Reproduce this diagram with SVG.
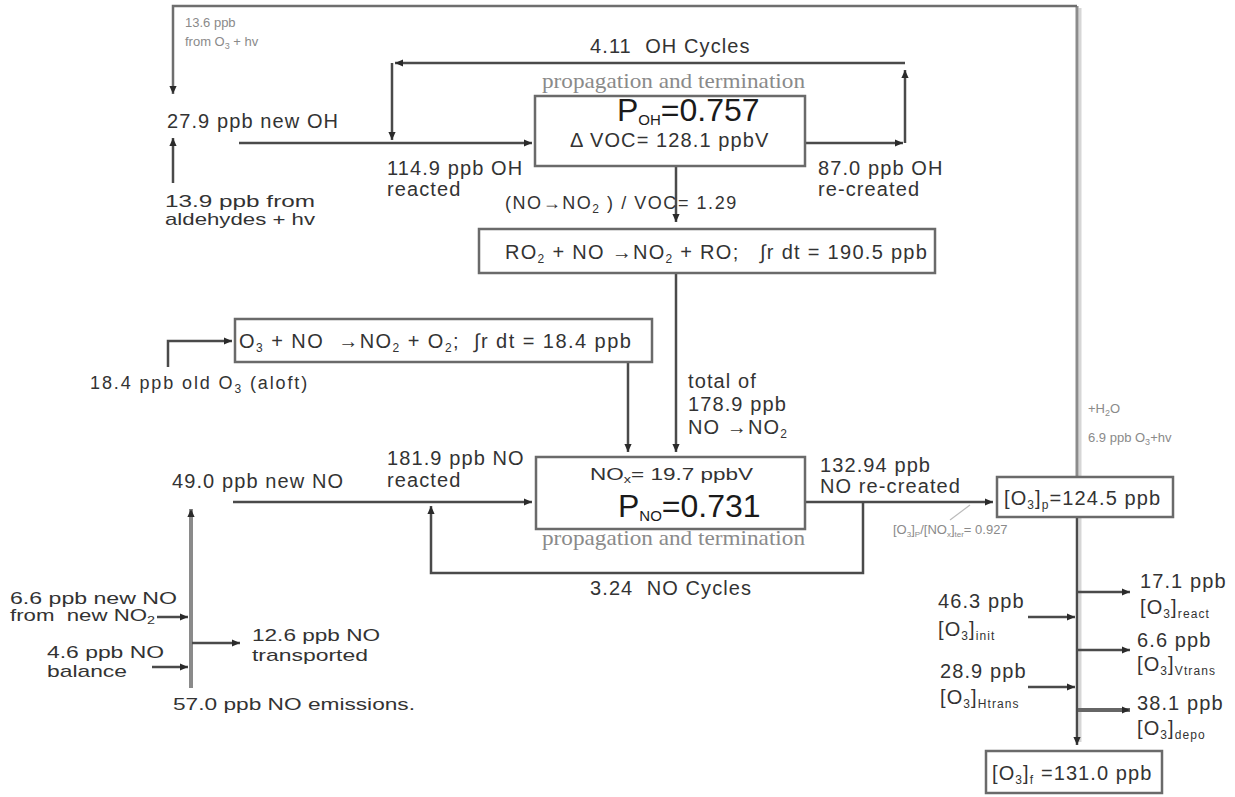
<svg xmlns="http://www.w3.org/2000/svg" width="1235" height="797" viewBox="0 0 1235 797">
<style>
text{font-family:"Liberation Sans",Arial,sans-serif;fill:#333}
.t{font-size:20px;letter-spacing:1.1px}
.m{font-size:18px;letter-spacing:0.8px}
.n{font-size:17px}
.s{font-size:13px;fill:#8a8a8a}
.big{font-size:32px;fill:#1a1a1a}
.pt{font-family:"Liberation Serif","Times New Roman",serif;font-size:21px;fill:#8a8a8a}
.sub{font-size:12px}
.box{fill:#fff;stroke:#6a6a6a;stroke-width:2.5}
.c{fill:none;stroke:#4a4a4a;stroke-width:2.5}
.g{fill:none;stroke:#8c8c8c;stroke-width:3}
</style>
<defs>
<marker id="ah" viewBox="0 0 10 10" refX="10" refY="5" markerWidth="9" markerHeight="8" orient="auto" markerUnits="userSpaceOnUse"><path d="M0,0.5 L10,5 L0,9.5 z" fill="#2a2a2a"/></marker>
</defs>
<rect width="1235" height="797" fill="#fff"/>

<g id="connectors">
<path d="M1080,477 V8" stroke="#d6d6d6" stroke-width="3" fill="none"/>
<path class="g" d="M1077,477 V6"/>
<path d="M1077,6 H173 V94" fill="none" stroke="#6e6e6e" stroke-width="2.5" marker-end="url(#ah)"/>
<path class="c" d="M173,183 V138" marker-end="url(#ah)"/>
<path class="c" d="M239,143 H532" marker-end="url(#ah)"/>
<path class="c" d="M806,143 H903" marker-end="url(#ah)"/>
<path class="c" d="M905,143 V70" marker-end="url(#ah)"/>
<path class="c" d="M905,63 H395" marker-end="url(#ah)"/>
<path class="c" d="M392,63 V140" marker-end="url(#ah)"/>
<path class="c" d="M676,155 V222" marker-end="url(#ah)" stroke="#1a1a1a"/>
<path class="c" d="M676,273 V452" marker-end="url(#ah)" stroke="#1a1a1a"/>
<path class="c" d="M628,362 V452" marker-end="url(#ah)"/>
<path class="c" d="M168,367 V341 H232" marker-end="url(#ah)"/>
<path class="c" d="M233,502 H532" marker-end="url(#ah)" stroke="#666"/>
<path class="c" d="M806,502 H993" marker-end="url(#ah)" stroke="#555"/>
<path class="c" d="M863,502 V573 H431 V506" marker-end="url(#ah)" stroke="#666"/>
<path d="M191,688 V509" fill="none" stroke="#8a8a8a" stroke-width="4" marker-end="url(#ah)"/>
<path class="c" d="M157,617 H188" marker-end="url(#ah)"/>
<path class="c" d="M152,667 H188" marker-end="url(#ah)" stroke="#777"/>
<path class="c" d="M192,643 H240" marker-end="url(#ah)"/>
<path d="M1080,517 V742" stroke="#d6d6d6" stroke-width="3" fill="none"/>
<path class="c" d="M1077,517 V745" marker-end="url(#ah)" stroke="#555"/>
<path class="c" d="M1078,592 H1130" marker-end="url(#ah)"/>
<path class="c" d="M1078,650 H1130" marker-end="url(#ah)"/>
<path d="M1078,710 H1130" fill="none" stroke="#666" stroke-width="4" marker-end="url(#ah)"/>
<path class="c" d="M1028,617 H1075" marker-end="url(#ah)"/>
<path class="c" d="M1028,687 H1075" marker-end="url(#ah)"/>
<path d="M970,505 L950,520" stroke="#bbb" stroke-width="1.2" fill="none"/>
</g>

<g id="label-o3hv">
<text class="s" x="185" y="27">13.6 ppb</text>
<text class="s" x="185" y="46">from O<tspan font-size="9" dy="3">3</tspan><tspan dy="-3"> + hv</tspan></text>
</g>
<g id="new-oh"><text class="t" x="167" y="128">27.9 ppb new OH</text></g>
<g id="aldehydes">
<text class="n" x="165" y="207" textLength="150" lengthAdjust="spacingAndGlyphs">13.9 ppb from</text>
<text class="n" x="165" y="225" textLength="150" lengthAdjust="spacingAndGlyphs">aldehydes + hv</text>
</g>
<g id="oh-cycles"><text class="t" x="590" y="53">4.11&#160;&#160;OH Cycles</text></g>

<g id="oh-box">
<text class="pt" x="542" y="88" textLength="263" lengthAdjust="spacingAndGlyphs">propagation and termination</text>
<rect class="box" x="535" y="96" width="270" height="70"/>
<text class="big" x="617" y="121">P<tspan font-size="15" dy="4">OH</tspan><tspan dy="-4">=0.757</tspan></text>
<text class="t" x="570" y="147">Δ VOC= 128.1 ppbV</text>
</g>
<g id="oh-reacted">
<text class="t" x="387" y="175">114.9 ppb OH</text>
<text class="t" x="387" y="196">reacted</text>
</g>
<g id="oh-recreated">
<text class="t" x="818" y="175">87.0 ppb OH</text>
<text class="t" x="818" y="196">re-created</text>
</g>
<g id="ratio"><text class="m" x="505" y="209" textLength="232">(NO→NO<tspan class="sub" dy="4">2</tspan><tspan dy="-4"> ) / VOC= 1.29</tspan></text></g>

<g id="ro2-box">
<rect class="box" x="479" y="229" width="456" height="44"/>
<text class="t" x="505" y="259" textLength="423">RO<tspan class="sub" dy="4">2</tspan><tspan dy="-4"> + NO →NO</tspan><tspan class="sub" dy="4">2</tspan><tspan dy="-4"> + RO;&#160;&#160; ∫r dt = 190.5 ppb</tspan></text>
</g>

<g id="o3-box">
<rect class="box" x="235" y="319" width="417" height="43"/>
<text class="t" x="239" y="348" textLength="393">O<tspan class="sub" dy="4">3</tspan><tspan dy="-4"> + NO&#160; →NO</tspan><tspan class="sub" dy="4">2</tspan><tspan dy="-4"> + O</tspan><tspan class="sub" dy="4">2</tspan><tspan dy="-4">;&#160; ∫r dt = 18.4 ppb</tspan></text>
</g>
<g id="old-o3"><text class="m" x="90" y="389" textLength="218">18.4 ppb old O<tspan class="sub" dy="4">3</tspan><tspan dy="-4"> (aloft)</tspan></text></g>

<g id="total">
<text class="t" x="688" y="388">total of</text>
<text class="t" x="688" y="411">178.9 ppb</text>
<text class="t" x="688" y="434">NO →NO<tspan class="sub" dy="4">2</tspan></text>
</g>

<g id="new-no"><text class="t" x="172" y="488">49.0 ppb new NO</text></g>
<g id="no-reacted">
<text class="t" x="387" y="465">181.9 ppb NO</text>
<text class="t" x="387" y="487">reacted</text>
</g>

<g id="no-box">
<rect class="box" x="536" y="457" width="269" height="72"/>
<text class="n" x="590" y="480" textLength="163" lengthAdjust="spacingAndGlyphs">NO<tspan font-size="11" dy="3">x</tspan><tspan dy="-3">= 19.7 ppbV</tspan></text>
<text class="big" x="618" y="517">P<tspan font-size="15" dy="4">NO</tspan><tspan dy="-4">=0.731</tspan></text>
<text class="pt" x="542" y="545" textLength="263" lengthAdjust="spacingAndGlyphs">propagation and termination</text>
</g>
<g id="no-recreated">
<text class="t" x="820" y="472">132.94 ppb</text>
<text class="t" x="820" y="493">NO re-created</text>
</g>
<g id="no-cycles"><text class="t" x="590" y="595">3.24&#160;&#160;NO Cycles</text></g>

<g id="emissions">
<text class="n" x="10" y="604" textLength="167" lengthAdjust="spacingAndGlyphs">6.6 ppb new NO</text>
<text class="n" x="10" y="621" textLength="145" lengthAdjust="spacingAndGlyphs">from&#160; new NO<tspan font-size="11" dy="3">2</tspan></text>
<text class="n" x="47" y="658" textLength="117" lengthAdjust="spacingAndGlyphs">4.6 ppb NO</text>
<text class="n" x="47" y="677" textLength="80" lengthAdjust="spacingAndGlyphs">balance</text>
<text class="n" x="252" y="641" textLength="128" lengthAdjust="spacingAndGlyphs">12.6 ppb NO</text>
<text class="n" x="252" y="661" textLength="116" lengthAdjust="spacingAndGlyphs">transported</text>
<text class="n" x="173" y="710" textLength="242" lengthAdjust="spacingAndGlyphs">57.0 ppb NO emissions.</text>
</g>

<g id="o3p-box">
<rect class="box" x="997" y="477" width="176" height="40"/>
<text class="t" x="1004" y="505" letter-spacing="0.5">[O<tspan class="sub" dy="4">3</tspan><tspan dy="-4">]</tspan><tspan class="sub" dy="4">p</tspan><tspan dy="-4">=124.5 ppb</tspan></text>
</g>
<g id="ratio-o3"><text class="s" x="893" y="534" font-size="12">[O<tspan font-size="8" dy="3">3</tspan><tspan dy="-3">]</tspan><tspan font-size="8" dy="3">P</tspan><tspan dy="-3">/[NO</tspan><tspan font-size="8" dy="3">x</tspan><tspan dy="-3">]</tspan><tspan font-size="8" dy="3">ter</tspan><tspan dy="-3">= 0.927</tspan></text></g>
<g id="h2o">
<text class="s" x="1088" y="413">+H<tspan font-size="9" dy="3">2</tspan><tspan dy="-3">O</tspan></text>
<text class="s" x="1088" y="442">6.9 ppb O<tspan font-size="9" dy="3">3</tspan><tspan dy="-3">+hv</tspan></text>
</g>

<g id="o3-init">
<text class="t" x="938" y="608">46.3 ppb</text>
<text class="t" x="938" y="636">[O<tspan class="sub" dy="4">3</tspan><tspan dy="-4">]</tspan><tspan class="sub" dy="4">init</tspan></text>
</g>
<g id="o3-htrans">
<text class="t" x="940" y="678">28.9 ppb</text>
<text class="t" x="940" y="704">[O<tspan class="sub" dy="4">3</tspan><tspan dy="-4">]</tspan><tspan class="sub" dy="4">Htrans</tspan></text>
</g>
<g id="o3-react">
<text class="t" x="1140" y="588">17.1 ppb</text>
<text class="t" x="1140" y="614">[O<tspan class="sub" dy="4">3</tspan><tspan dy="-4">]</tspan><tspan class="sub" dy="4">react</tspan></text>
</g>
<g id="o3-vtrans">
<text class="t" x="1137" y="647">6.6 ppb</text>
<text class="t" x="1137" y="671">[O<tspan class="sub" dy="4">3</tspan><tspan dy="-4">]</tspan><tspan class="sub" dy="4">Vtrans</tspan></text>
</g>
<g id="o3-depo">
<text class="t" x="1137" y="710">38.1 ppb</text>
<text class="t" x="1137" y="735">[O<tspan class="sub" dy="4">3</tspan><tspan dy="-4">]</tspan><tspan class="sub" dy="4">depo</tspan></text>
</g>
<g id="o3f-box">
<rect class="box" x="986" y="751" width="176" height="42"/>
<text class="t" x="992" y="780" letter-spacing="0.5">[O<tspan class="sub" dy="4">3</tspan><tspan dy="-4">]</tspan><tspan class="sub" dy="4">f</tspan><tspan dy="-4"> =131.0 ppb</tspan></text>
</g>
</svg>
